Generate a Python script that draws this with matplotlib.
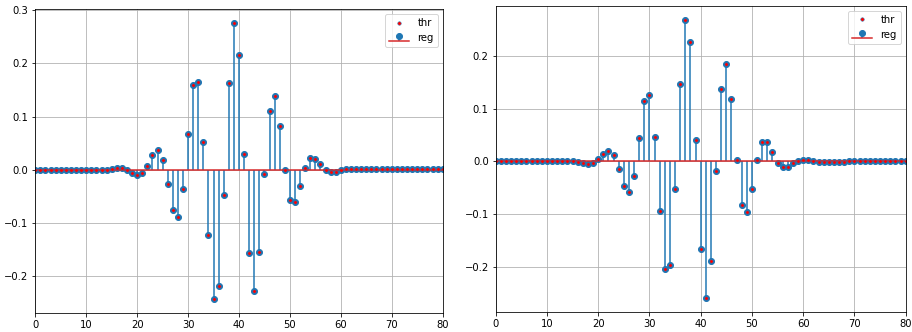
import numpy as np
import matplotlib
matplotlib.use("Agg")
import matplotlib.pyplot as plt

# sample index for both panels
n = np.arange(81)

# left panel: regression / thresholded coefficients
left_vals = [
    0, 0, 0, 0, 0, 0, 0, 0, 0, 0,
    0, 0, 0, 0, 0, 0.002, 0.004, 0.003, -0.001, -0.006,
    -0.010, -0.006, 0.008, 0.0275, 0.037, 0.019, -0.026, -0.075, -0.089, -0.036,
    0.0675, 0.159, 0.164, 0.052, -0.122, -0.243, -0.218, -0.048, 0.1625, 0.276,
    0.216, 0.030, -0.156, -0.227, -0.155, -0.008, 0.110, 0.138, 0.082, -0.001,
    -0.056, -0.061, -0.031, 0.004, 0.022, 0.021, 0.010, -0.001, -0.005, -0.004,
    -0.001, 0.002, 0.002, 0.002, 0.001, 0.001, 0.001, 0.001, 0.001, 0.001,
    0.001, 0.001, 0.001, 0.001, 0.001, 0.001, 0.001, 0.001, 0.001, 0.001,
    0.001,
]

# right panel
right_vals = [
    0, 0, 0, 0, 0, 0, 0, 0, 0, 0,
    0, 0, 0, 0, 0, 0.001, -0.001, -0.003, -0.005, -0.003,
    0.004, 0.0145, 0.020, 0.012, -0.0145, -0.046, -0.059, -0.027, 0.044, 0.114,
    0.125, 0.0455, -0.094, -0.205, -0.197, -0.0525, 0.147, 0.269, 0.226, 0.0405,
    -0.166, -0.2595, -0.190, -0.018, 0.137, 0.184, 0.118, 0.0025, -0.082, -0.0955,
    -0.0525, 0.003, 0.036, 0.0367, 0.0177, -0.0025, -0.0114, -0.010, -0.004, 0.001,
    0.003, 0.0025, 0.001, -0.0006, -0.0005, -0.0005, -0.0005, -0.0004, -0.0003, -0.0002,
    0, 0, 0, 0, 0, 0, 0, 0, 0, 0,
    0,
]

fig = plt.figure(figsize=(912 / 72, 332 / 72), dpi=72)
ax1 = fig.add_axes([35.3 / 912, 1 - 313 / 332, 407.4 / 912, 304 / 332])
ax2 = fig.add_axes([495.7 / 912, 1 - 312 / 332, 410 / 912, 306.3 / 332])

for ax, vals in [(ax1, left_vals), (ax2, right_vals)]:
    ax.stem(n, vals, label="reg")
    # red centre with a thin blue rim
    ax.plot(n, vals, ".", markersize=7, markerfacecolor="r",
            markeredgecolor="C0", markeredgewidth=0.5, label="thr")
    ax.set_xlim(0, 80)
    ax.grid(True)
    ax.legend(loc="upper right")

fig.savefig("out.png", dpi=72)
